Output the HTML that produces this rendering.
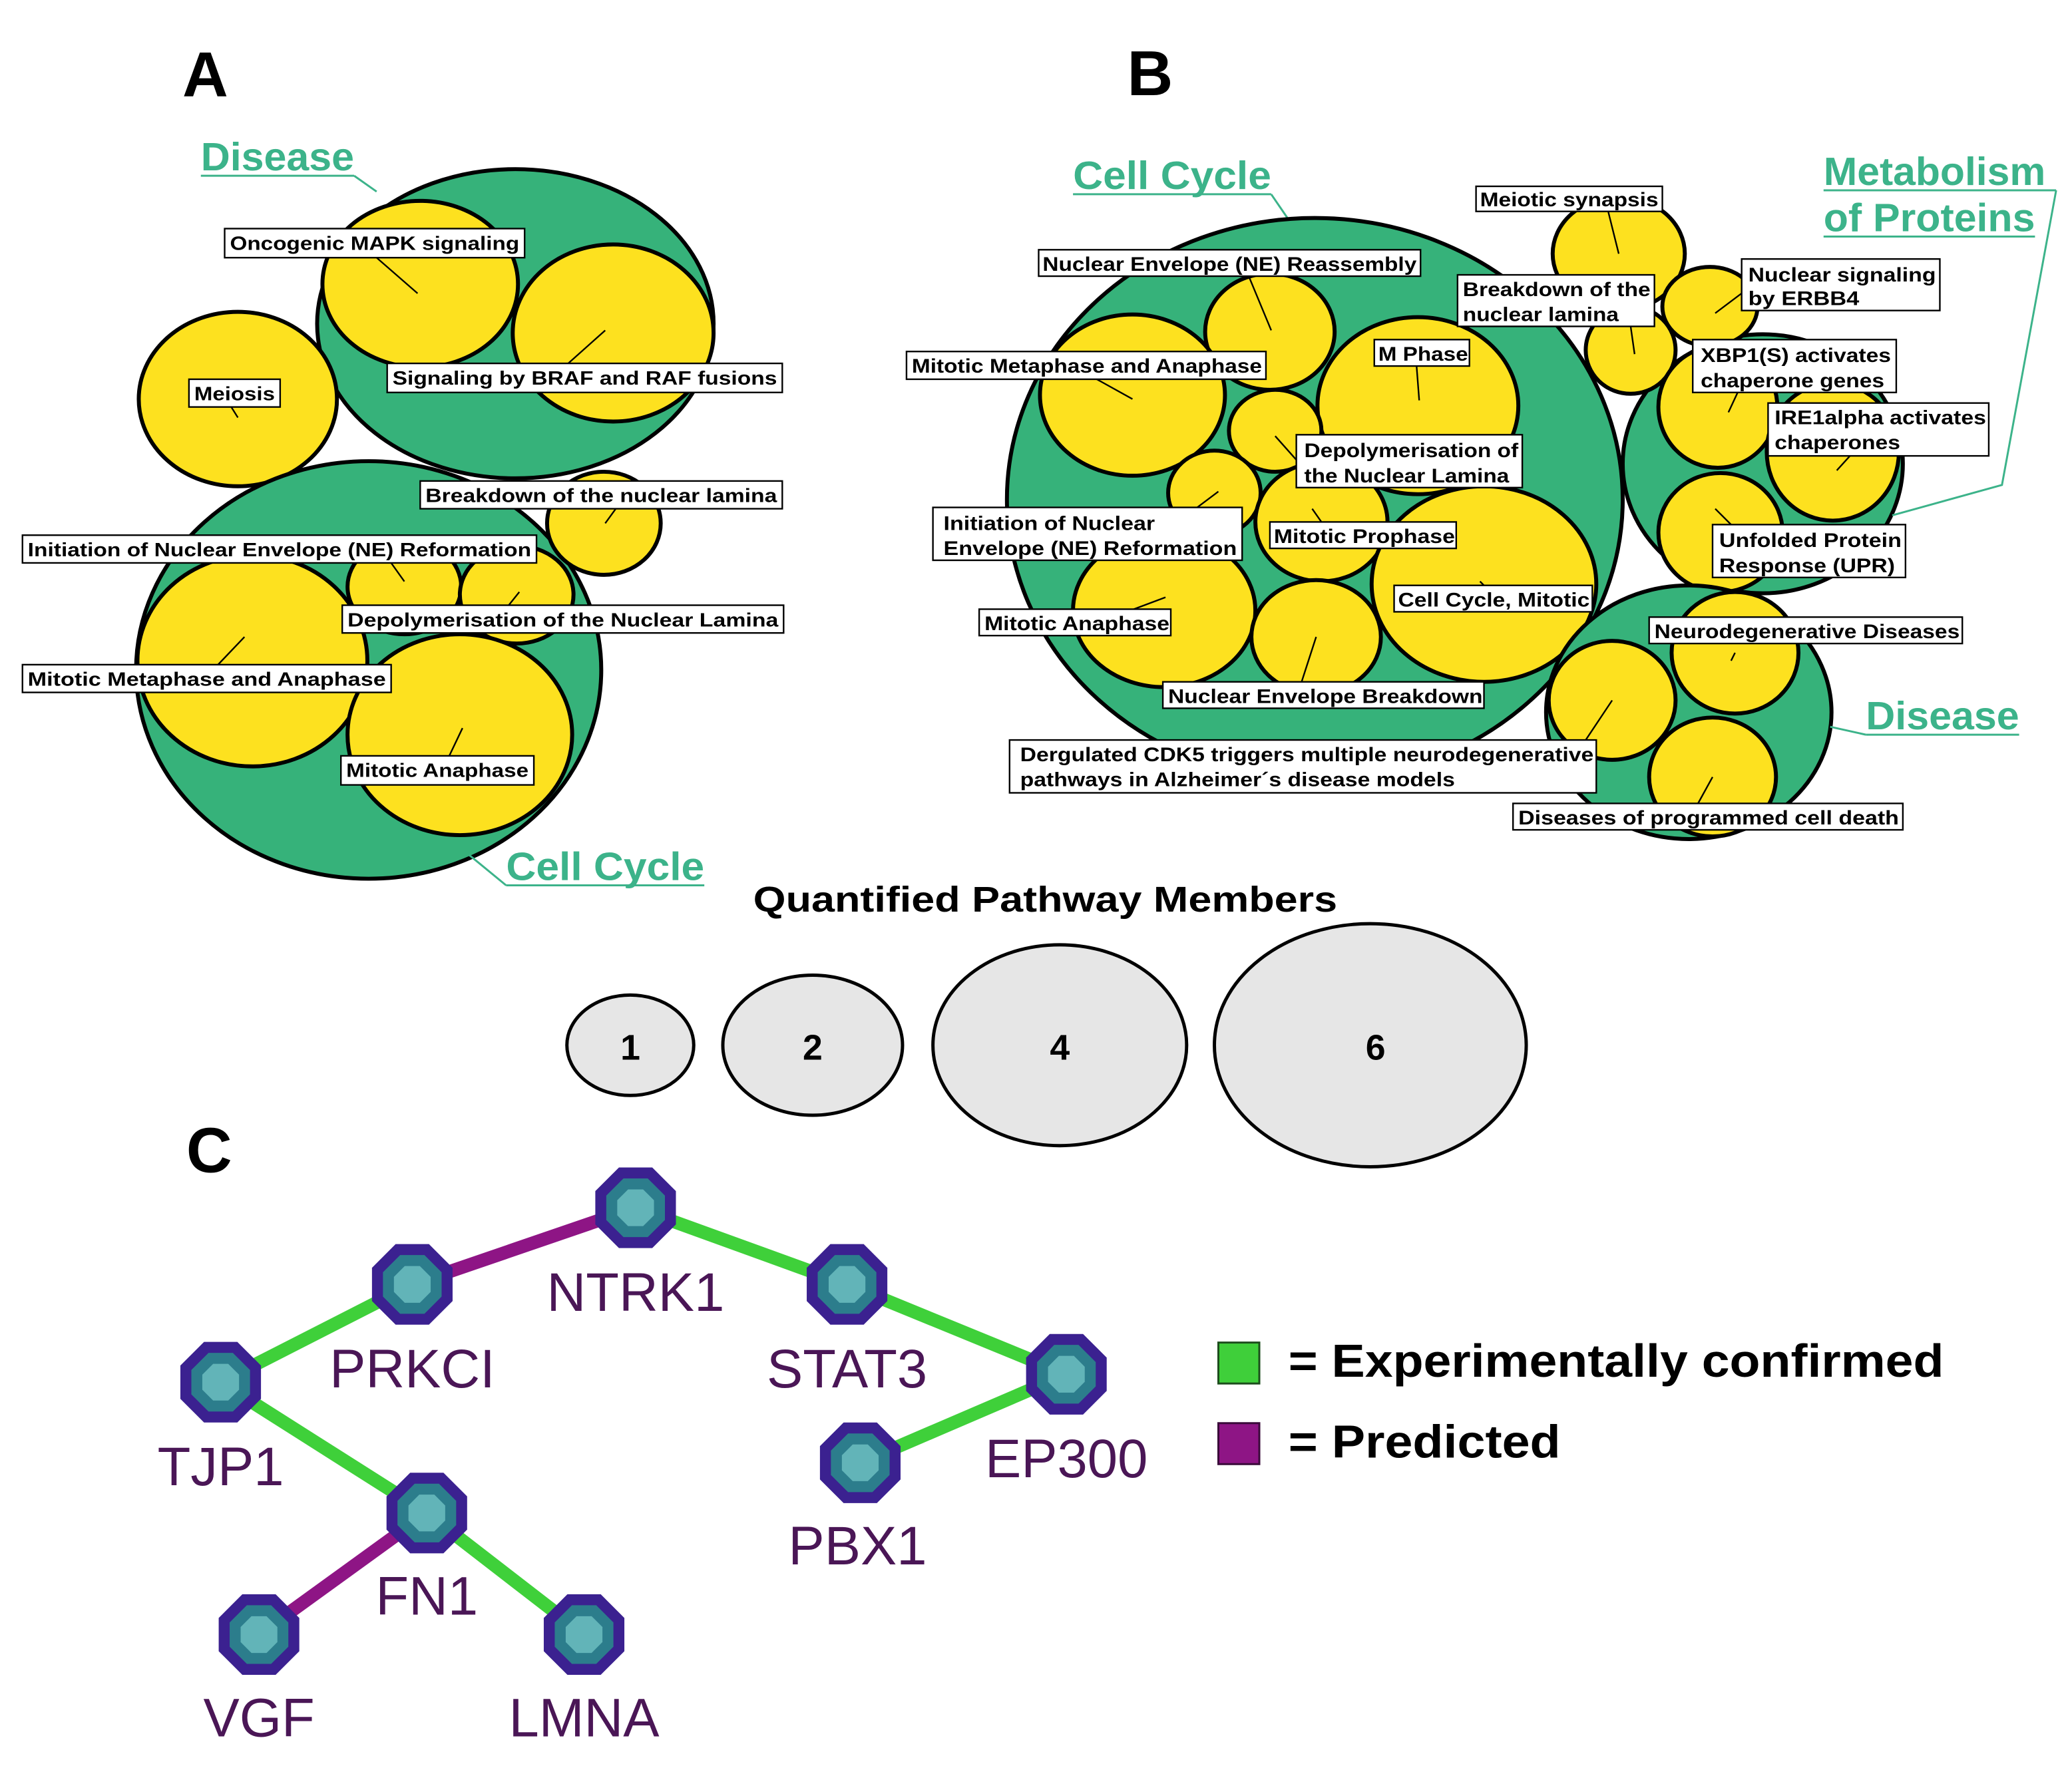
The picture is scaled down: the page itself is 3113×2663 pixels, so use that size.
<!DOCTYPE html>
<html><head><meta charset="utf-8"><style>
html,body{margin:0;padding:0;background:#fff;}
svg{display:block;}
.lb{font-family:"Liberation Sans",Arial,sans-serif;font-weight:bold;font-size:14.5px;fill:#000;}
.ln{font-family:"Liberation Sans Narrow","Liberation Sans",Arial,sans-serif;font-weight:bold;font-size:15px;fill:#000;}
.box{fill:#fff;stroke:#000;stroke-width:1.2;}
.g{fill:#36b27a;stroke:#000;stroke-width:3;}
.y{fill:#fde11f;stroke:#000;stroke-width:3;}
.lead{stroke:#000;stroke-width:1.2;fill:none;}
.gl{font-family:"Liberation Sans",Arial,sans-serif;font-weight:bold;font-size:30px;fill:#3cb38a;}
.gline{stroke:#3cb38a;stroke-width:1.5;fill:none;}
.big{font-family:"Liberation Sans",Arial,sans-serif;font-weight:bold;font-size:48px;fill:#000;}
.nl{font-family:"Liberation Sans",Arial,sans-serif;font-size:41px;fill:#4a1656;}
.leg{fill:#e6e6e6;stroke:#000;stroke-width:2.5;}
.lt{font-family:"Liberation Sans",Arial,sans-serif;font-weight:bold;font-size:27px;fill:#000;}
</style></head><body>
<svg width="3113" height="2663" viewBox="0 0 1568 1341" preserveAspectRatio="none" xmlns="http://www.w3.org/2000/svg">
<defs>
<g id="node">
<polygon fill="#3b2190" points="30.5,12.6 12.6,30.5 -12.6,30.5 -30.5,12.6 -30.5,-12.6 -12.6,-30.5 12.6,-30.5 30.5,-12.6"/>
<polygon fill="#2c7d8c" points="22.2,9.2 9.2,22.2 -9.2,22.2 -22.2,9.2 -22.2,-9.2 -9.2,-22.2 9.2,-22.2 22.2,-9.2"/>
<polygon fill="#62b4b8" points="13.9,5.7 5.7,13.9 -5.7,13.9 -13.9,5.7 -13.9,-5.7 -5.7,-13.9 5.7,-13.9 13.9,-5.7"/>
</g>
</defs>
<text class="big" x="138" y="73">A</text>
<text class="big" x="853" y="72">B</text>
<text class="big" x="141" y="887">C</text>

<!-- ===== Panel A ===== -->
<text class="gl" x="152" y="129" textLength="116" lengthAdjust="spacingAndGlyphs">Disease</text>
<line class="gline" x1="152" y1="133" x2="268" y2="133"/>
<line class="gline" x1="268" y1="133" x2="285" y2="145"/>
<ellipse class="g" cx="390" cy="245" rx="150" ry="117"/>
<ellipse class="y" cx="318" cy="215" rx="74" ry="63"/>
<ellipse class="y" cx="464" cy="252" rx="76" ry="67"/>
<ellipse class="y" cx="180" cy="302" rx="75" ry="66"/>
<ellipse class="g" cx="279" cy="507" rx="176" ry="158"/>
<ellipse class="y" cx="457" cy="396" rx="43" ry="39"/>
<ellipse class="y" cx="306" cy="444" rx="43" ry="36"/>
<ellipse class="y" cx="391" cy="450" rx="43" ry="37"/>
<ellipse class="y" cx="191" cy="500" rx="87" ry="80"/>
<ellipse class="y" cx="348" cy="556" rx="85" ry="76"/>
<line class="lead" x1="285" y1="195" x2="316" y2="222"/>
<line class="lead" x1="458" y1="250" x2="430" y2="275"/>
<line class="lead" x1="175" y1="308" x2="180" y2="316"/>
<line class="lead" x1="466" y1="385" x2="458" y2="396"/>
<line class="lead" x1="296" y1="426" x2="306" y2="440"/>
<line class="lead" x1="393" y1="448" x2="385" y2="458"/>
<line class="lead" x1="185" y1="482" x2="165" y2="503"/>
<line class="lead" x1="350" y1="551" x2="340" y2="572"/>
<rect class="box" x="170" y="173" width="227" height="22"/><text class="lb" x="174" y="189" textLength="219" lengthAdjust="spacingAndGlyphs">Oncogenic MAPK signaling</text>
<rect class="box" x="293" y="275" width="299" height="22"/><text class="lb" x="297" y="291" textLength="291" lengthAdjust="spacingAndGlyphs">Signaling by BRAF and RAF fusions</text>
<rect class="box" x="143" y="287" width="69" height="21"/><text class="lb" x="147" y="303" textLength="61" lengthAdjust="spacingAndGlyphs">Meiosis</text>
<rect class="box" x="318" y="364" width="274" height="21"/><text class="lb" x="322" y="380" textLength="266" lengthAdjust="spacingAndGlyphs">Breakdown of the nuclear lamina</text>
<rect class="box" x="17" y="405" width="389" height="21"/><text class="lb" x="21" y="421" textLength="381" lengthAdjust="spacingAndGlyphs">Initiation of Nuclear Envelope (NE) Reformation</text>
<rect class="box" x="259" y="458" width="334" height="21"/><text class="lb" x="263" y="474" textLength="326" lengthAdjust="spacingAndGlyphs">Depolymerisation of the Nuclear Lamina</text>
<rect class="box" x="17" y="503" width="279" height="21"/><text class="lb" x="21" y="519" textLength="271" lengthAdjust="spacingAndGlyphs">Mitotic Metaphase and Anaphase</text>
<rect class="box" x="258" y="572" width="146" height="22"/><text class="lb" x="262" y="588" textLength="138" lengthAdjust="spacingAndGlyphs">Mitotic Anaphase</text>
<text class="gl" x="383" y="666" textLength="150" lengthAdjust="spacingAndGlyphs">Cell Cycle</text>
<line class="gline" x1="383" y1="670" x2="533" y2="670"/>
<line class="gline" x1="355" y1="647" x2="383" y2="670"/>

<!-- ===== Panel B ===== -->
<text class="gl" x="812" y="143" textLength="150" lengthAdjust="spacingAndGlyphs">Cell Cycle</text>
<line class="gline" x1="812" y1="147" x2="962" y2="147"/>
<line class="gline" x1="962" y1="147" x2="975" y2="166"/>
<ellipse class="g" cx="995" cy="378" rx="233" ry="213"/>
<ellipse class="y" cx="961" cy="251" rx="49" ry="44"/>
<ellipse class="y" cx="857" cy="299" rx="70" ry="61"/>
<ellipse class="y" cx="1073" cy="307" rx="76" ry="67"/>
<ellipse class="y" cx="965" cy="326" rx="35" ry="31"/>
<ellipse class="y" cx="919" cy="373" rx="35" ry="32"/>
<ellipse class="y" cx="1000" cy="395" rx="50" ry="45"/>
<ellipse class="y" cx="1123" cy="442" rx="85" ry="74"/>
<ellipse class="y" cx="881" cy="462" rx="69" ry="58"/>
<ellipse class="y" cx="996" cy="482" rx="49" ry="43"/>
<ellipse class="g" cx="1334" cy="351" rx="106" ry="98"/>
<ellipse class="y" cx="1225" cy="192" rx="50" ry="43"/>
<ellipse class="y" cx="1234" cy="265" rx="34" ry="33"/>
<ellipse class="y" cx="1294" cy="232" rx="36" ry="30"/>
<ellipse class="y" cx="1300" cy="308" rx="45" ry="46"/>
<ellipse class="y" cx="1387" cy="342" rx="50" ry="52"/>
<ellipse class="y" cx="1302" cy="403" rx="47" ry="45"/>
<ellipse class="g" cx="1278" cy="539" rx="108" ry="96"/>
<ellipse class="y" cx="1313" cy="494" rx="48" ry="46"/>
<ellipse class="y" cx="1220" cy="530" rx="48" ry="45"/>
<ellipse class="y" cx="1296" cy="588" rx="48" ry="45"/>
<line class="lead" x1="1217" y1="160" x2="1225" y2="192"/>
<line class="lead" x1="945" y1="209" x2="962" y2="250"/>
<line class="lead" x1="1234" y1="247" x2="1237" y2="268"/>
<line class="lead" x1="1318" y1="222" x2="1298" y2="237"/>
<line class="lead" x1="830" y1="287" x2="857" y2="302"/>
<line class="lead" x1="1072" y1="277" x2="1074" y2="303"/>
<line class="lead" x1="1315" y1="297" x2="1308" y2="312"/>
<line class="lead" x1="1400" y1="345" x2="1390" y2="356"/>
<line class="lead" x1="981" y1="348" x2="965" y2="330"/>
<line class="lead" x1="906" y1="384" x2="922" y2="372"/>
<line class="lead" x1="1000" y1="395" x2="993" y2="385"/>
<line class="lead" x1="1310" y1="397" x2="1298" y2="385"/>
<line class="lead" x1="1123" y1="443" x2="1120" y2="440"/>
<line class="lead" x1="858" y1="461" x2="882" y2="452"/>
<line class="lead" x1="1313" y1="494" x2="1310" y2="500"/>
<line class="lead" x1="985" y1="516" x2="996" y2="482"/>
<line class="lead" x1="1200" y1="560" x2="1220" y2="530"/>
<line class="lead" x1="1285" y1="608" x2="1296" y2="588"/>
<rect class="box" x="1117" y="141" width="141" height="19"/><text class="ln" x="1120" y="156" textLength="135" lengthAdjust="spacingAndGlyphs">Meiotic synapsis</text>
<rect class="box" x="786" y="189" width="289" height="20"/><text class="ln" x="789" y="205" textLength="283" lengthAdjust="spacingAndGlyphs">Nuclear Envelope (NE) Reassembly</text>
<rect class="box" x="1103" y="208" width="149" height="39"/><text class="ln" x="1107" y="224" textLength="142" lengthAdjust="spacingAndGlyphs">Breakdown of the</text><text class="ln" x="1107" y="243" textLength="118" lengthAdjust="spacingAndGlyphs">nuclear lamina</text>
<rect class="box" x="1318" y="196" width="150" height="39"/><text class="ln" x="1323" y="213" textLength="142" lengthAdjust="spacingAndGlyphs">Nuclear signaling</text><text class="ln" x="1323" y="231" textLength="84" lengthAdjust="spacingAndGlyphs">by ERBB4</text>
<rect class="box" x="686" y="266" width="272" height="21"/><text class="ln" x="690" y="282" textLength="265" lengthAdjust="spacingAndGlyphs">Mitotic Metaphase and Anaphase</text>
<rect class="box" x="1040" y="257" width="72" height="20"/><text class="ln" x="1043" y="273" textLength="68" lengthAdjust="spacingAndGlyphs">M Phase</text>
<rect class="box" x="1281" y="257" width="154" height="40"/><text class="ln" x="1287" y="274" textLength="144" lengthAdjust="spacingAndGlyphs">XBP1(S) activates</text><text class="ln" x="1287" y="293" textLength="139" lengthAdjust="spacingAndGlyphs">chaperone genes</text>
<rect class="box" x="1338" y="305" width="167" height="40"/><text class="ln" x="1343" y="321" textLength="160" lengthAdjust="spacingAndGlyphs">IRE1alpha activates</text><text class="ln" x="1343" y="340" textLength="95" lengthAdjust="spacingAndGlyphs">chaperones</text>
<rect class="box" x="981" y="329" width="171" height="40"/><text class="ln" x="987" y="346" textLength="162" lengthAdjust="spacingAndGlyphs">Depolymerisation of</text><text class="ln" x="987" y="365" textLength="155" lengthAdjust="spacingAndGlyphs">the Nuclear Lamina</text>
<rect class="box" x="706" y="384" width="234" height="40"/><text class="ln" x="714" y="401" textLength="160" lengthAdjust="spacingAndGlyphs">Initiation of Nuclear</text><text class="ln" x="714" y="420" textLength="222" lengthAdjust="spacingAndGlyphs">Envelope (NE) Reformation</text>
<rect class="box" x="961" y="395" width="141" height="20"/><text class="ln" x="964" y="411" textLength="137" lengthAdjust="spacingAndGlyphs">Mitotic Prophase</text>
<rect class="box" x="1296" y="397" width="146" height="40"/><text class="ln" x="1301" y="414" textLength="138" lengthAdjust="spacingAndGlyphs">Unfolded Protein</text><text class="ln" x="1301" y="433" textLength="133" lengthAdjust="spacingAndGlyphs">Response (UPR)</text>
<rect class="box" x="1055" y="443" width="150" height="20"/><text class="ln" x="1058" y="459" textLength="145" lengthAdjust="spacingAndGlyphs">Cell Cycle, Mitotic</text>
<rect class="box" x="741" y="461" width="145" height="20"/><text class="ln" x="745" y="477" textLength="140" lengthAdjust="spacingAndGlyphs">Mitotic Anaphase</text>
<rect class="box" x="1248" y="467" width="237" height="20"/><text class="ln" x="1252" y="483" textLength="231" lengthAdjust="spacingAndGlyphs">Neurodegenerative Diseases</text>
<rect class="box" x="880" y="516" width="243" height="20"/><text class="ln" x="884" y="532" textLength="238" lengthAdjust="spacingAndGlyphs">Nuclear Envelope Breakdown</text>
<rect class="box" x="764" y="560" width="444" height="40"/><text class="ln" x="772" y="576" textLength="434" lengthAdjust="spacingAndGlyphs">Dergulated CDK5 triggers multiple neurodegenerative</text><text class="ln" x="772" y="595" textLength="329" lengthAdjust="spacingAndGlyphs">pathways in Alzheimer´s disease models</text>
<rect class="box" x="1145" y="608" width="295" height="20"/><text class="ln" x="1149" y="624" textLength="288" lengthAdjust="spacingAndGlyphs">Diseases of programmed cell death</text>
<text class="gl" x="1380" y="140" textLength="168" lengthAdjust="spacingAndGlyphs">Metabolism</text>
<line class="gline" x1="1380" y1="144" x2="1556" y2="144"/>
<text class="gl" x="1380" y="175" textLength="160" lengthAdjust="spacingAndGlyphs">of Proteins</text>
<line class="gline" x1="1380" y1="179" x2="1540" y2="179"/>
<polyline class="gline" points="1556,144 1515,367 1432,390"/>
<text class="gl" x="1412" y="552" textLength="116" lengthAdjust="spacingAndGlyphs">Disease</text>
<line class="gline" x1="1412" y1="556" x2="1528" y2="556"/>
<line class="gline" x1="1385" y1="550" x2="1412" y2="556"/>

<text class="lt" x="570" y="690" textLength="442" lengthAdjust="spacingAndGlyphs">Quantified Pathway Members</text>
<ellipse class="leg" cx="477" cy="791" rx="48" ry="38"/>
<ellipse class="leg" cx="615" cy="791" rx="68" ry="53"/>
<ellipse class="leg" cx="802" cy="791" rx="96" ry="76"/>
<ellipse class="leg" cx="1037" cy="791" rx="118" ry="92"/>
<text class="lt" x="477" y="802" text-anchor="middle">1</text>
<text class="lt" x="615" y="802" text-anchor="middle">2</text>
<text class="lt" x="802" y="802" text-anchor="middle">4</text>
<text class="lt" x="1041" y="802" text-anchor="middle">6</text>

<!-- ===== Panel C ===== -->
<g stroke-width="10" stroke-linecap="butt">
<line x1="481" y1="914" x2="312" y2="972" stroke="#8e1585"/>
<line x1="481" y1="914" x2="641" y2="972" stroke="#3fd03a"/>
<line x1="641" y1="972" x2="807" y2="1040" stroke="#3fd03a"/>
<line x1="807" y1="1040" x2="651" y2="1107" stroke="#3fd03a"/>
<line x1="312" y1="972" x2="167" y2="1046" stroke="#3fd03a"/>
<line x1="167" y1="1046" x2="323" y2="1145" stroke="#3fd03a"/>
<line x1="323" y1="1145" x2="196" y2="1237" stroke="#8e1585"/>
<line x1="323" y1="1145" x2="442" y2="1237" stroke="#3fd03a"/>
</g>
<use href="#node" x="481" y="914"/>
<use href="#node" x="312" y="972"/>
<use href="#node" x="641" y="972"/>
<use href="#node" x="167" y="1046"/>
<use href="#node" x="807" y="1040"/>
<use href="#node" x="651" y="1107"/>
<use href="#node" x="323" y="1145"/>
<use href="#node" x="196" y="1237"/>
<use href="#node" x="442" y="1237"/>
<text class="nl" x="481" y="992" text-anchor="middle">NTRK1</text>
<text class="nl" x="312" y="1050" text-anchor="middle">PRKCI</text>
<text class="nl" x="641" y="1050" text-anchor="middle">STAT3</text>
<text class="nl" x="167" y="1124" text-anchor="middle">TJP1</text>
<text class="nl" x="807" y="1118" text-anchor="middle">EP300</text>
<text class="nl" x="649" y="1184" text-anchor="middle">PBX1</text>
<text class="nl" x="323" y="1222" text-anchor="middle">FN1</text>
<text class="nl" x="196" y="1314" text-anchor="middle">VGF</text>
<text class="nl" x="442" y="1314" text-anchor="middle">LMNA</text>
<rect x="922" y="1016" width="31" height="31" fill="#3fcf3a" stroke="#1c4d1c" stroke-width="1.5"/>
<rect x="922" y="1077" width="31" height="31" fill="#8e1585" stroke="#3a0a3a" stroke-width="1.5"/>
<text class="lt" x="975" y="1042" style="font-size:35px" textLength="496" lengthAdjust="spacingAndGlyphs">= Experimentally confirmed</text>
<text class="lt" x="975" y="1103" style="font-size:35px" textLength="206" lengthAdjust="spacingAndGlyphs">= Predicted</text>
</svg>
</body></html>
